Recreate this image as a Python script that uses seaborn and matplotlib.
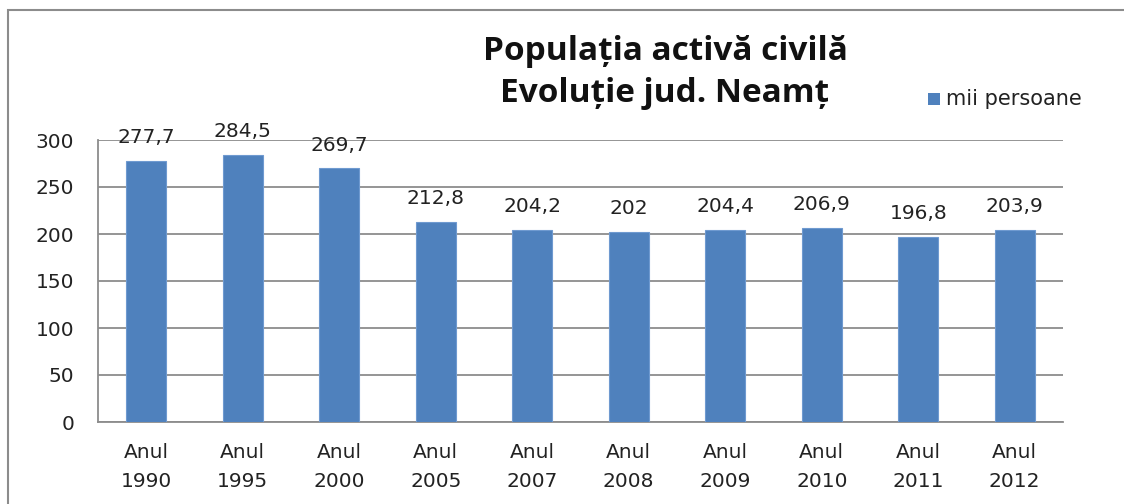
import matplotlib
matplotlib.use("Agg")
from matplotlib import pyplot as plt
from matplotlib.patches import Rectangle
import numpy as np
import pandas as pd
import seaborn as sns

# data
years = ["1990", "1995", "2000", "2005", "2007", "2008", "2009", "2010", "2011", "2012"]
values = [277.7, 284.5, 269.7, 212.8, 204.2, 202, 204.4, 206.9, 196.8, 203.9]
value_labels = ["277,7", "284,5", "269,7", "212,8", "204,2", "202", "204,4", "206,9", "196,8", "203,9"]
series_name = "mii persoane"

df = pd.DataFrame({"an": ["Anul\n" + y for y in years], "val": values})

sns.set_style("white")
plt.rcParams["font.family"] = ["DejaVu Sans"]

f = plt.figure(figsize=(11.24, 5.04), dpi=100)
ax = f.add_axes([98 / 1124, 1 - 422 / 504, (1063 - 98) / 1124, (422 - 140) / 504])

bar_color = "#4F81BD"
sns.barplot(data=df, x="an", y="val", color=bar_color, width=0.41, ax=ax,
            saturation=1, edgecolor="#6F9AD0", linewidth=0.8, zorder=3)

ax.set_ylim(0, 300)
ax.set_xlim(-0.5, len(years) - 0.5)
ax.set_yticks(np.arange(0, 301, 50))
ax.yaxis.grid(True, color="#8C8C8C", linewidth=1.3, zorder=0)
ax.set_axisbelow(True)
ax.set_xlabel("")
ax.set_ylabel("")

for s in ["top", "right"]:
    ax.spines[s].set_visible(False)
for s in ["left", "bottom"]:
    ax.spines[s].set_color("#8C8C8C")
    ax.spines[s].set_linewidth(1.3)

# x ticks sit between categories
ax.set_xticks(np.arange(-0.5, len(years)), minor=True)
ax.tick_params(axis="x", which="minor", length=7, width=1.3, color="#8C8C8C", direction="out")
ax.tick_params(axis="x", which="major", length=0, pad=15, labelsize=14.5, labelcolor="#222222")
ax.tick_params(axis="y", length=7, width=1.3, color="#8C8C8C", direction="out", pad=10,
               labelsize=14.5, labelcolor="#222222")
for lab in ax.get_xticklabels():
    lab.set_linespacing(1.65)

ax.bar_label(ax.containers[0], labels=value_labels, padding=10, fontsize=14.5, color="#222222")

# title
f.text(665 / 1124, 1 - 51 / 504, "Populația activă civilă", ha="center", va="center",
       fontsize=24, fontweight="bold", family=["Open Sans", "DejaVu Sans"], color="#111111")
f.text(665 / 1124, 1 - 93 / 504, "Evoluție jud. Neamț", ha="center", va="center",
       fontsize=24, fontweight="bold", family=["Open Sans", "DejaVu Sans"], color="#111111")

# legend
f.patches.append(Rectangle((928 / 1124, 1 - 105 / 504), 12 / 1124, 12 / 504,
                           transform=f.transFigure, facecolor=bar_color, edgecolor="none"))
f.text(946 / 1124, 1 - 99 / 504, series_name, ha="left", va="center",
       fontsize=15, color="#222222")

# chart frame
f.patches.append(Rectangle((8 / 1124, -0.05), 1.2, 1 - 10 / 504 + 0.05,
                           transform=f.transFigure, facecolor="none",
                           edgecolor="#8C8C8C", linewidth=1.5))

f.savefig("out.png", dpi=100)
